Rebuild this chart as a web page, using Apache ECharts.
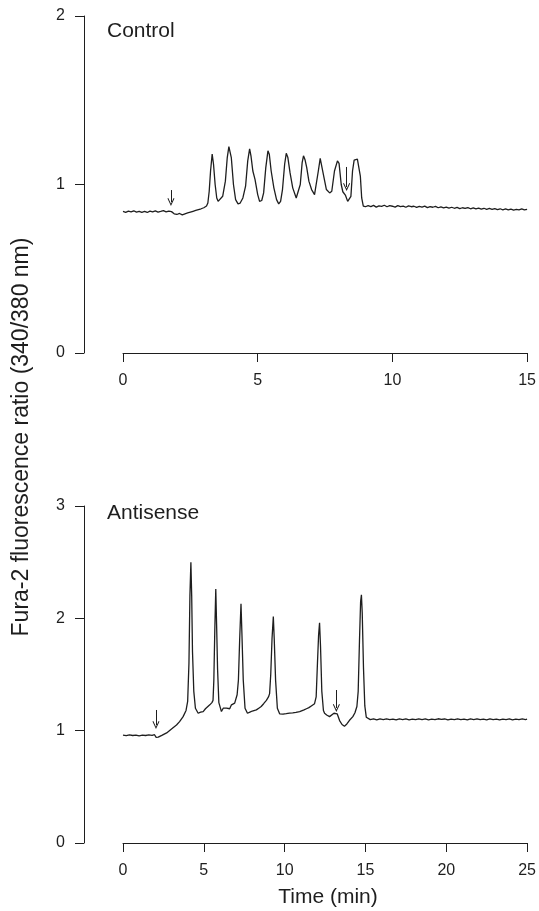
<!DOCTYPE html>
<html>
<head>
<meta charset="utf-8">
<script src="https://cdn.jsdelivr.net/npm/echarts/dist/echarts.min.js"></script>
<style>
html,body{margin:0;padding:0;background:#fff;}
#chart{width:539px;height:911px;}
</style>
</head>
<body>
<div id="chart"></div>
<script>
// ---- Control panel (time in min, Fura-2 ratio) ----
const controlTime = [0.0,0.1,0.2,0.3,0.4,0.5,0.6,0.7,0.8,0.9,1.0,1.1,1.2,1.3,1.4,1.5,1.6,1.7,1.8,1.9,2.0,2.1,2.2,2.3,2.4,2.5,2.6,2.7,2.8,2.9,3.0,3.1,3.15,3.2,3.25,3.31,3.36,3.42,3.48,3.53,3.60,3.70,3.80,3.87,3.93,3.97,4.02,4.10,4.18,4.27,4.35,4.45,4.55,4.63,4.70,4.75,4.82,4.90,5.00,5.07,5.15,5.22,5.30,5.38,5.43,5.50,5.60,5.70,5.78,5.85,5.92,6.00,6.06,6.12,6.20,6.30,6.43,6.50,6.58,6.65,6.70,6.76,6.82,6.90,7.00,7.11,7.18,7.25,7.32,7.38,7.45,7.55,7.67,7.75,7.85,7.96,8.02,8.10,8.16,8.26,8.34,8.40,8.46,8.52,8.58,8.63,8.70,8.76,8.81,8.86,8.92,9.0,9.1,9.2,9.3,9.4,9.5,9.6,9.7,9.8,9.9,10.0,10.1,10.2,10.3,10.4,10.5,10.6,10.7,10.8,10.9,11.0,11.1,11.2,11.3,11.4,11.5,11.6,11.7,11.8,11.9,12.0,12.1,12.2,12.3,12.4,12.5,12.6,12.7,12.8,12.9,13.0,13.1,13.2,13.3,13.4,13.5,13.6,13.7,13.8,13.9,14.0,14.1,14.2,14.3,14.4,14.5,14.6,14.7,14.8,14.9,15.0];
const controlRatio = [0.840,0.835,0.842,0.838,0.844,0.836,0.841,0.835,0.840,0.834,0.842,0.837,0.843,0.836,0.840,0.845,0.838,0.842,0.839,0.826,0.822,0.828,0.820,0.826,0.831,0.836,0.841,0.846,0.851,0.856,0.862,0.872,0.890,0.960,1.080,1.180,1.120,1.000,0.920,0.900,0.905,0.930,1.020,1.160,1.225,1.232,1.160,1.000,0.910,0.885,0.890,0.920,0.990,1.140,1.212,1.170,1.080,1.030,0.940,0.900,0.905,0.950,1.100,1.200,1.180,1.080,0.980,0.910,0.885,0.900,0.970,1.120,1.185,1.160,1.070,0.980,0.920,0.930,1.000,1.130,1.170,1.145,1.100,1.020,0.970,0.940,0.950,1.080,1.155,1.145,1.050,0.970,0.950,0.960,1.080,1.140,1.125,1.000,0.957,0.935,0.900,0.892,0.930,1.080,1.145,1.155,1.150,1.152,1.050,0.920,0.872,0.868,0.874,0.869,0.876,0.866,0.873,0.870,0.877,0.868,0.874,0.871,0.866,0.875,0.869,0.872,0.865,0.873,0.868,0.871,0.864,0.870,0.866,0.872,0.863,0.869,0.865,0.870,0.862,0.867,0.861,0.866,0.860,0.865,0.859,0.864,0.857,0.862,0.858,0.863,0.856,0.861,0.855,0.860,0.854,0.859,0.853,0.858,0.852,0.857,0.851,0.856,0.850,0.855,0.849,0.854,0.848,0.853,0.850,0.855,0.849,0.852];
// arrows: [time, top ratio, bottom (tip) ratio]
const controlArrows = [[1.78,0.967,0.896],[8.30,1.104,0.985]];

// ---- Antisense panel ----
const antisenseTime = [0.0,0.2,0.4,0.6,0.8,1.0,1.2,1.4,1.6,1.8,1.95,2.05,2.18,2.4,2.7,3.0,3.31,3.5,3.72,3.90,4.0,4.08,4.14,4.20,4.25,4.30,4.38,4.48,4.65,4.8,4.96,5.1,5.2,5.37,5.5,5.57,5.62,5.68,5.74,5.79,5.85,5.93,6.09,6.2,6.3,6.4,6.5,6.6,6.71,6.8,6.91,7.0,7.06,7.14,7.22,7.30,7.36,7.44,7.55,7.70,7.85,8.0,8.1,8.25,8.4,8.55,8.7,8.87,9.0,9.07,9.14,9.22,9.30,9.36,9.44,9.55,9.69,9.8,9.9,10.0,10.1,10.2,10.3,10.4,10.5,10.6,10.7,10.8,10.93,11.05,11.2,11.35,11.5,11.65,11.75,11.85,11.95,12.03,12.10,12.16,12.22,12.30,12.40,12.47,12.6,12.78,12.9,13.05,13.15,13.25,13.4,13.55,13.70,13.85,14.0,14.22,14.35,14.47,14.55,14.63,14.70,14.75,14.80,14.88,14.96,15.05,15.14,15.3,15.5,15.7,15.9,16.1,16.3,16.5,16.7,16.9,17.1,17.3,17.5,17.7,17.9,18.1,18.3,18.5,18.7,18.9,19.1,19.3,19.5,19.7,19.9,20.1,20.3,20.5,20.7,20.9,21.1,21.3,21.5,21.7,21.9,22.1,22.3,22.5,22.7,22.9,23.1,23.3,23.5,23.7,23.9,24.1,24.3,24.5,24.7,24.9,25.0];
const antisenseRatio = [0.960,0.955,0.962,0.957,0.961,0.954,0.960,0.957,0.962,0.959,0.964,0.940,0.942,0.958,0.980,1.015,1.050,1.080,1.125,1.180,1.260,1.600,2.200,2.500,2.200,1.700,1.350,1.200,1.155,1.165,1.170,1.195,1.190,1.230,1.250,1.270,1.450,1.900,2.260,1.950,1.550,1.250,1.170,1.200,1.185,1.200,1.210,1.195,1.230,1.225,1.245,1.260,1.320,1.450,1.820,2.130,1.850,1.450,1.200,1.155,1.165,1.175,1.170,1.185,1.200,1.215,1.240,1.270,1.300,1.330,1.500,1.820,2.015,1.800,1.450,1.200,1.150,1.155,1.148,1.160,1.152,1.163,1.157,1.166,1.158,1.170,1.162,1.172,1.170,1.180,1.185,1.195,1.205,1.220,1.235,1.240,1.300,1.600,1.850,1.960,1.750,1.350,1.180,1.155,1.140,1.125,1.140,1.155,1.165,1.150,1.090,1.055,1.040,1.060,1.090,1.125,1.160,1.215,1.350,1.800,2.150,2.210,2.050,1.550,1.220,1.120,1.110,1.098,1.105,1.097,1.104,1.099,1.106,1.098,1.103,1.096,1.104,1.099,1.106,1.097,1.103,1.098,1.105,1.099,1.104,1.097,1.102,1.098,1.106,1.100,1.104,1.097,1.103,1.099,1.105,1.098,1.103,1.097,1.104,1.099,1.105,1.098,1.102,1.097,1.104,1.099,1.103,1.096,1.102,1.098,1.104,1.097,1.103,1.098,1.104,1.099,1.102];
const antisenseArrows = [[2.04,1.184,1.050],[13.20,1.362,1.202]];

// ---- axis ticks ----
const controlXTicks = {min:0, max:15, interval:5};
const controlYTicks = {min:0, max:2, interval:1};
const antisenseXTicks = {min:0, max:25, interval:5};
const antisenseYTicks = {min:0, max:3, interval:1};

const panelLabels = ['Control','Antisense'];
const xAxisTitle = 'Time (min)';
const yAxisTitle = 'Fura-2 fluorescence ratio (340/380 nm)';

const FONT = "'Liberation Sans', Arial, Helvetica, sans-serif";
const INK = '#1e1e1e';
const arrowPath = 'path://M5,0 L10,10 L8.8,10.6 L5,3 L1.2,10.6 L0,10 Z';

function pairs(xs, ys){ return xs.map((x,i)=>[x, ys[i]]); }
function arrowData(arr){ return arr.map(a=>[{coord:[a[0],a[1]]},{coord:[a[0],a[2]]}]); }

function xAxisCfg(grid, t){
  return {type:'value', gridIndex:grid, min:t.min, max:t.max, interval:t.interval,
    axisLine:{show:true, onZero:false, lineStyle:{color:INK, width:1}},
    axisTick:{show:true, length:9, lineStyle:{color:INK, width:1}},
    axisLabel:{fontSize:16, color:INK, margin:20, fontFamily:FONT},
    splitLine:{show:false}};
}
function yAxisCfg(grid, t){
  return {type:'value', gridIndex:grid, min:t.min, max:t.max, interval:t.interval, offset:39, position:'left',
    axisLine:{show:true, onZero:false, lineStyle:{color:INK, width:1}},
    axisTick:{show:true, length:9, lineStyle:{color:INK, width:1}},
    axisLabel:{fontSize:16, color:INK, margin:19, fontFamily:FONT},
    splitLine:{show:false}};
}
function seriesCfg(idx, xs, ys, arrows){
  return {type:'line', xAxisIndex:idx, yAxisIndex:idx, data:pairs(xs,ys),
    showSymbol:false, symbol:'none', lineStyle:{color:INK, width:1.3}, silent:true,
    markLine:{silent:true, symbol:['none', arrowPath], symbolSize:[7,8],
      label:{show:false}, lineStyle:{color:INK, width:1, type:'solid'},
      emphasis:{disabled:true}, data:arrowData(arrows)}};
}

const chart = echarts.init(document.getElementById('chart'), null, {renderer:'canvas'});
chart.setOption({
  animation:false,
  backgroundColor:'#ffffff',
  grid:[{left:123, right:11, top:16, height:337},{left:123, right:11, top:506, height:337}],
  xAxis:[xAxisCfg(0, controlXTicks), xAxisCfg(1, antisenseXTicks)],
  yAxis:[yAxisCfg(0, controlYTicks), yAxisCfg(1, antisenseYTicks)],
  series:[seriesCfg(0, controlTime, controlRatio, controlArrows), seriesCfg(1, antisenseTime, antisenseRatio, antisenseArrows)],
  graphic:[
    {type:'text', x:107, y:31, silent:true, style:{text:panelLabels[0], fontSize:21, fontFamily:FONT, fill:INK, align:'left', verticalAlign:'middle'}},
    {type:'text', x:107, y:513, silent:true, style:{text:panelLabels[1], fontSize:21, fontFamily:FONT, fill:INK, align:'left', verticalAlign:'middle'}},
    {type:'text', x:328, y:897, silent:true, style:{text:xAxisTitle, fontSize:21, fontFamily:FONT, fill:INK, align:'center', verticalAlign:'middle'}},
    {type:'text', x:22, y:437, rotation:Math.PI/2, silent:true, style:{text:yAxisTitle, fontSize:23, fontFamily:FONT, fill:INK, align:'center', verticalAlign:'middle'}}
  ]
});
</script>
</body>
</html>
